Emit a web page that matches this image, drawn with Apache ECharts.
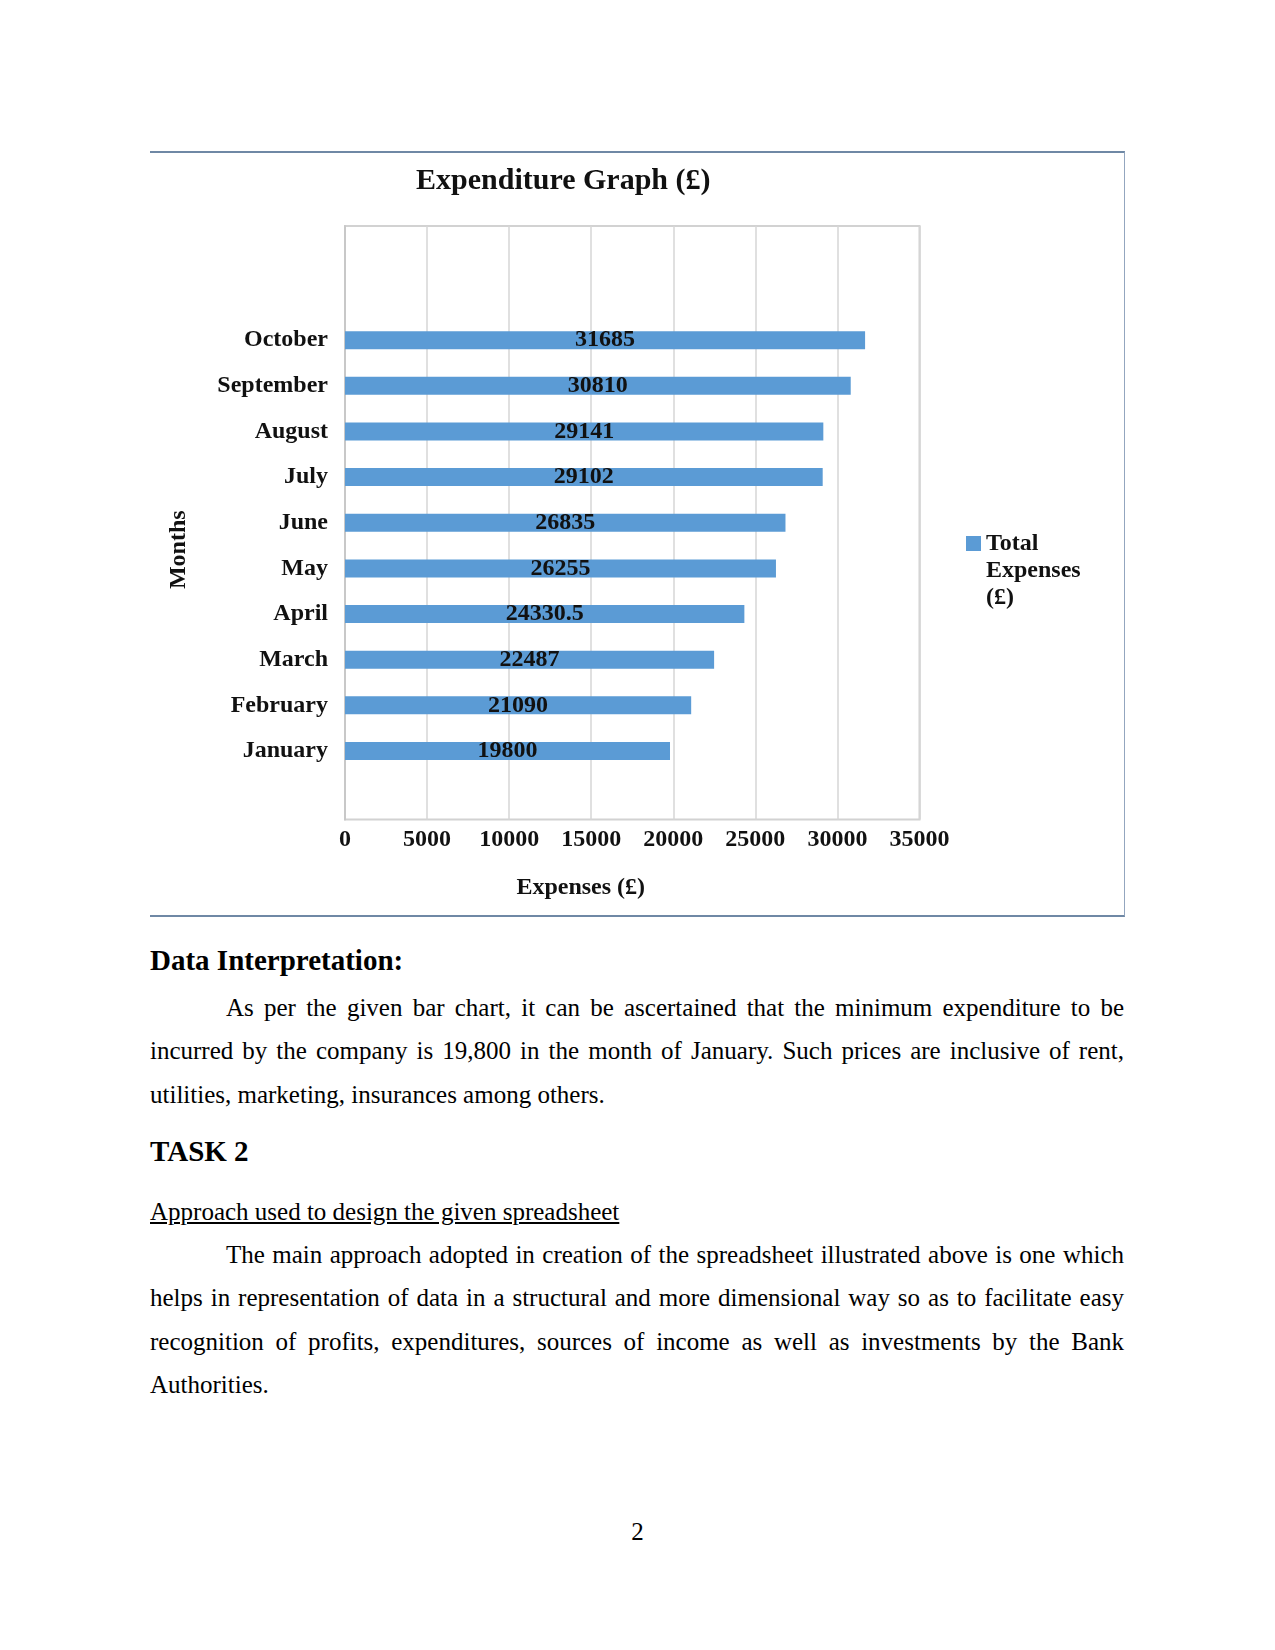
<!DOCTYPE html>
<html>
<head>
<meta charset="utf-8">
<script src="https://cdn.jsdelivr.net/npm/echarts@6/dist/echarts.min.js"></script>
<style>
  html, body { margin: 0; padding: 0; background: #fff; }
  body { width: 1275px; height: 1650px; position: relative; font-family: 'Liberation Serif', serif; color: #000; }
  #chart { position: absolute; left: 150px; top: 152px; width: 975px; height: 762px; }
  #frame { position: absolute; left: 150px; top: 151px; width: 974px; height: 762px;
           border-top: 2px solid #6f88a5; border-bottom: 2px solid #6f88a5; border-right: 1px solid #93a6bf;
           pointer-events: none; box-sizing: content-box; }
  .h { position: absolute; left: 150px; font-weight: bold; font-size: 29px; line-height: 40px; white-space: nowrap; }
  .p { position: absolute; left: 150px; width: 974px; font-size: 25px; line-height: 43.4px; }
  .p div { text-align: justify; text-align-last: justify; white-space: normal; }
  .p div.last { text-align-last: left; }
  .p div.ind { padding-left: 76px; }
  .u { position: absolute; left: 150px; font-size: 25px; line-height: 43.4px; text-decoration: underline; white-space: nowrap; }
  .pg { position: absolute; left: 0; width: 1275px; text-align: center; font-size: 25px; line-height: 30px; }
</style>
</head>
<body>
<div id="chart"></div>
<div id="frame"></div>

<div class="h" style="top:940px;">Data Interpretation:</div>
<div class="p" style="top:986px;">
  <div class="ind">As per the given bar chart, it can be ascertained that the minimum expenditure to be</div>
  <div>incurred by the company is 19,800 in the month of January. Such prices are inclusive of rent,</div>
  <div class="last">utilities, marketing, insurances among others.</div>
</div>
<div class="h" style="top:1131px;">TASK 2</div>
<div class="u" style="top:1190px;">Approach used to design the given spreadsheet</div>
<div class="p" style="top:1233px;">
  <div class="ind">The main approach adopted in creation of the spreadsheet illustrated above is one which</div>
  <div>helps in representation of data in a structural and more dimensional way so as to facilitate easy</div>
  <div>recognition of profits, expenditures, sources of income as well as investments by the Bank</div>
  <div class="last">Authorities.</div>
</div>
<div class="pg" style="top:1517px;">2</div>

<script>
// ---- data ----
const months = ['January', 'February', 'March', 'April', 'May', 'June', 'July', 'August', 'September', 'October'];
const totalExpenses = [19800, 21090, 22487, 24330.5, 26255, 26835, 29102, 29141, 30810, 31685];
const xTicks = [0, 5000, 10000, 15000, 20000, 25000, 30000, 35000];
const seriesName = 'Total Expenses (£)';
const legendLines = ['Total', 'Expenses', '(£)'];
const chartTitle = 'Expenditure Graph (£)';
const xAxisTitle = 'Expenses (£)';
const yAxisTitle = 'Months';

// empty slots in the category axis (1 below, 2 above) as in the original chart
const categories = [' '].concat(months, ['  ', '   ']);
const values = [null].concat(totalExpenses, [null, null]);

const serif = 'Liberation Serif';
const chart = echarts.init(document.getElementById('chart'), null, { renderer: 'canvas' });
chart.setOption({
  animation: false,
  backgroundColor: 'transparent',
  textStyle: { fontFamily: serif },
  title: {
    text: chartTitle,
    left: 266,
    top: 14,
    padding: 0,
    textStyle: { fontFamily: serif, fontWeight: 'bold', fontSize: 30, color: '#111' }
  },
  legend: {
    data: [seriesName],
    orient: 'vertical',
    left: 816,
    top: 324,
    padding: 0,
    icon: 'rect',
    itemWidth: 15,
    itemHeight: 15,
    formatter: function () { return ' \n \n' + legendLines.join('\n'); },
    textStyle: { fontFamily: serif, fontWeight: 'bold', fontSize: 24, lineHeight: 27, color: '#111' }
  },
  grid: {
    left: 195, right: 205.5, top: 74, bottom: 94.5,
    show: true, borderColor: '#d2d2d2', borderWidth: 2, backgroundColor: '#fff'
  },
  xAxis: {
    type: 'value',
    min: xTicks[0],
    max: xTicks[xTicks.length - 1],
    interval: xTicks[1] - xTicks[0],
    name: xAxisTitle,
    nameLocation: 'middle',
    nameGap: 56,
    nameTextStyle: { fontFamily: serif, fontWeight: 'bold', fontSize: 24, color: '#111', padding: [0, 103, 0, 0] },
    axisLine: { show: false },
    axisTick: { show: false },
    axisLabel: { margin: 8, fontFamily: serif, fontWeight: 'bold', fontSize: 24, color: '#111',
                 formatter: function (v) { return String(v); } },
    splitLine: { show: true, lineStyle: { color: '#d6d6d6', width: 1.5 } }
  },
  yAxis: {
    type: 'category',
    data: categories,
    name: yAxisTitle,
    nameLocation: 'middle',
    nameGap: 154,
    nameTextStyle: { fontFamily: serif, fontWeight: 'bold', fontSize: 24, color: '#111', padding: [0, 54, 0, 0] },
    axisLine: { show: true, lineStyle: { color: '#c8c8c8', width: 2 } },
    axisTick: { show: false },
    axisLabel: { margin: 17, fontFamily: serif, fontWeight: 'bold', fontSize: 24, color: '#111' },
    splitLine: { show: false }
  },
  series: [{
    name: seriesName,
    type: 'bar',
    data: values,
    barWidth: 18,
    itemStyle: { color: '#5b9bd5' },
    label: {
      show: true,
      position: 'inside',
      fontFamily: serif,
      fontWeight: 'bold',
      fontSize: 24,
      color: '#111'
    }
  }]
});
</script>
</body>
</html>
